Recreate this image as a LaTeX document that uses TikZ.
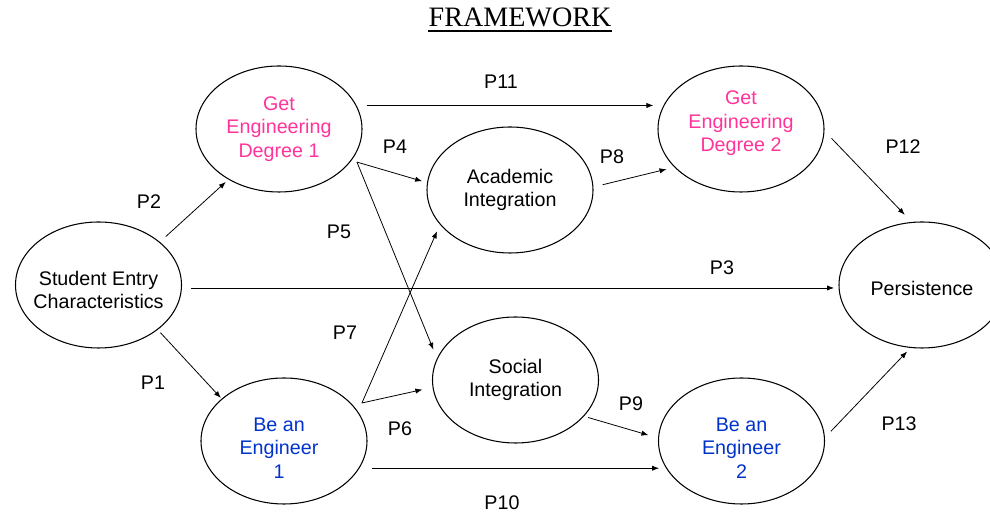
\documentclass[tikz,border=0pt]{standalone}
\usepackage{fontspec}
\setmainfont{Liberation Serif}
\setsansfont{Liberation Sans}
\usetikzlibrary{shapes.geometric,arrows.meta}

\definecolor{degpink}{RGB}{255,51,153}
\definecolor{engblue}{RGB}{0,51,204}

\tikzset{
    bub/.style={ellipse, draw=black, line width=0.6pt, minimum width=3.32cm, minimum height=2.52cm, inner sep=0pt, outer sep=0pt},
    txt/.style={font=\sffamily\fontsize{11.2}{13.4}\selectfont, align=center, inner sep=0pt},
    lbl/.style={font=\sffamily\fontsize{11.2}{13.4}\selectfont, inner sep=0pt},
    arr/.style={-{Latex[length=4pt,width=3pt]}, line width=0.45pt, black}
}

\begin{document}
\begin{tikzpicture}
        \useasboundingbox (0,0) rectangle (19.8,10.28);

        % title
        \node[font=\fontsize{16}{19}\selectfont, anchor=base, inner sep=0pt] (title) at (10.40,9.74) {FRAMEWORK};
        \draw[line width=1.1pt] ([yshift=-2.3pt]title.base west) -- ([yshift=-2.3pt]title.base east);

        % the eight ellipses
        \node[bub] (sec) at (1.97,4.58) {};
        \node[bub] (deg1) at (5.58,7.70) {};
        \node[bub] (be1) at (5.68,1.46) {};
        \node[bub] (acad) at (10.20,6.48) {};
        \node[bub] (soc) at (10.31,2.68) {};
        \node[bub] (deg2) at (14.82,7.70) {};
        \node[bub] (be2) at (14.83,1.46) {};
        \node[bub] (pers) at (18.44,4.58) {};

        \node[txt] (sec-t) at ([yshift=-0.1cm]sec) {Student Entry\\Characteristics};
        \node[txt, text=degpink] (deg1-t) at (deg1) {Get\\Engineering\\Degree 1};
        \node[txt, text=engblue] (be1-t) at ([shift={(-0.1,-0.14)}]be1) {Be an\\Engineer\\1};
        \node[txt] (acad-t) at (acad) {Academic\\Integration};
        \node[txt] (soc-t) at (soc) {Social\\Integration};
        \node[txt, text=degpink] (deg2-t) at ([yshift=0.11cm]deg2) {Get\\Engineering\\Degree 2};
        \node[txt, text=engblue] (be2-t) at ([yshift=-0.14cm]be2) {Be an\\Engineer\\2};
        \node[txt] (pers-t) at ([yshift=-0.06cm]pers) {Persistence};

        % paths
        \draw[arr, shorten <=2.6pt, shorten >=0.9pt] (sec.-37) -- (be1.146);
        \draw[arr, shorten <=4.8pt, shorten >=2.3pt] (sec.35) -- (deg1.225);
        \draw[arr, shorten <=5.4pt, shorten >=2.8pt] ([yshift=-1.7pt]sec.east) -- ([yshift=-1.7pt]pers.west);
        \coordinate (d1out) at ([shift={(-23:0.12)}]deg1.-23);
        \draw[arr, shorten >=3.2pt] (d1out) -- (acad.175);
        \draw[arr, shorten >=5.7pt] (d1out) -- (soc.165);
        \coordinate (b1out) at ([shift={(26:0.18)}]be1.26);
        \draw[arr, shorten >=6.2pt] (b1out) -- (soc.185);
        \draw[arr, shorten >=4.5pt] (b1out) -- (acad.206);
        \draw[arr, shorten <=5.7pt, shorten >=4.9pt] (acad.2) -- (deg2.210);
        \draw[arr, shorten <=2.7pt, shorten >=6pt] (soc.-28) -- (be2.178);
        \draw[arr, shorten <=7.4pt, shorten >=4.3pt] (be1.-20) -- (be2.200);
        \draw[arr, shorten <=6pt, shorten >=6pt] (deg1.17) -- (deg2.163);
        \draw[arr, shorten <=6.2pt, shorten >=6pt] (deg2.-1) -- (pers.99);
        \draw[arr, shorten <=5.4pt, shorten >=3.2pt] (be2.2) -- (pers.260);

        % path labels
        \node[lbl] (p1) at (3.06,2.62) {P1};
        \node[lbl] (p2) at (2.98,6.24) {P2};
        \node[lbl] (p3) at (14.44,4.92) {P3};
        \node[lbl] (p4) at (7.90,7.34) {P4};
        \node[lbl] (p5) at (6.78,5.64) {P5};
        \node[lbl] (p6) at (8.00,1.70) {P6};
        \node[lbl] (p7) at (6.90,3.62) {P7};
        \node[lbl] (p8) at (12.24,7.14) {P8};
        \node[lbl] (p9) at (12.62,2.20) {P9};
        \node[lbl] (p10) at (10.04,0.22) {P10};
        \node[lbl] (p11) at (10.02,8.64) {P11};
        \node[lbl] (p12) at (18.06,7.34) {P12};
        \node[lbl] (p13) at (17.98,1.80) {P13};
    \end{tikzpicture}
\end{document}
